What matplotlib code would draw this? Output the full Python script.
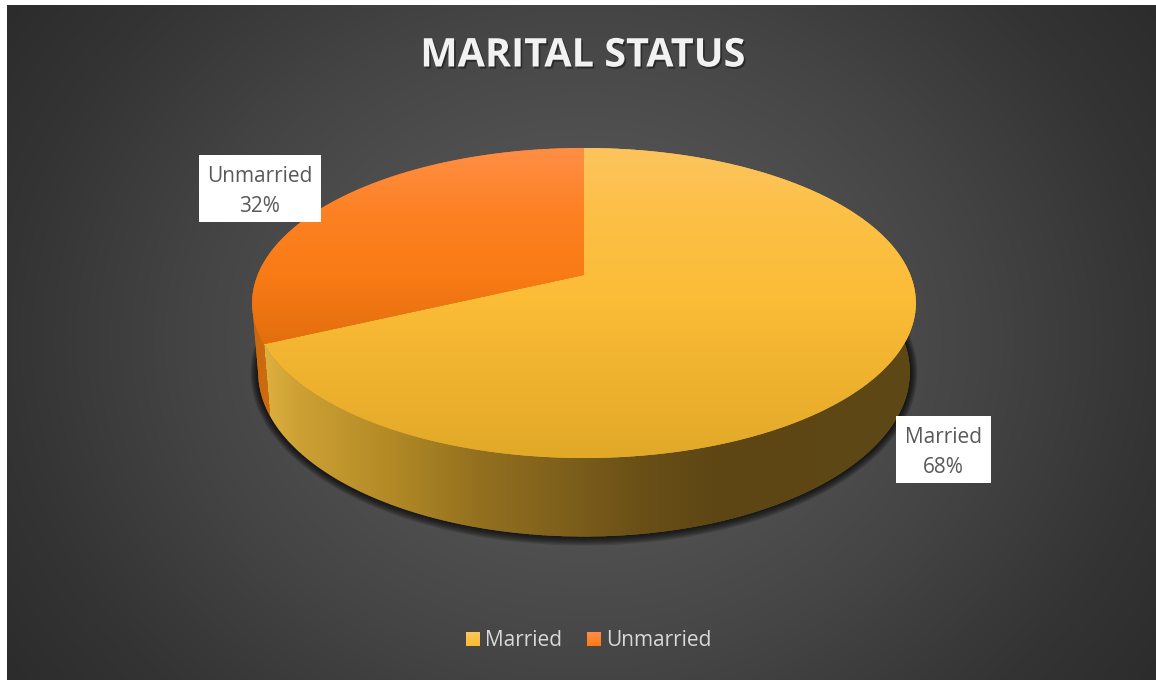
import numpy as np
import matplotlib
matplotlib.use("Agg")
import matplotlib.pyplot as plt
from matplotlib.patches import Polygon, Rectangle
from matplotlib.path import Path
from matplotlib.colors import to_rgb
import matplotlib.patheffects as pe

# ---- data ----
title = "MARITAL STATUS"
categories = ["Married", "Unmarried"]
values = [68, 32]
label_text = ["Married\n68%", "Unmarried\n32%"]

plt.rcParams['font.family'] = ['Open Sans', 'DejaVu Sans']
W, H = 1156, 680
fig = plt.figure(figsize=(W / 100, H / 100), dpi=100, facecolor='white')
ax = fig.add_axes([0, 0, 1, 1])
ax.set_xlim(0, W)
ax.set_ylim(H, 0)
ax.axis('off')

# ---- background ----
xx, yy = np.meshgrid(np.arange(W) + .5, np.arange(H) + .5)
r = np.sqrt(((xx - 584) / 820) ** 2 + ((yy - 340) / 700) ** 2)
g = np.interp(r, [0, .25, .47, .7, .85, 1.0], [0x5A, 0x52, 0x45, 0x34, 0x2C, 0x28]) / 255
bgmask = (xx >= 7) & (yy >= 5)
bg = np.dstack([g, g, g, bgmask.astype(float)])
ax.imshow(bg, extent=(0, W, H, 0), interpolation='nearest', aspect='auto', zorder=0)
ax.set_xlim(0, W)
ax.set_ylim(H, 0)

# ---- projection ----
GAM, BET, A, DEL, EPS = 0.1806, -100.3, 326.4, 0.018, 74.0


def project(theta, z=0.0):
    x, y = np.sin(theta), np.cos(theta)
    w = 1 + GAM * y + DEL * z
    return np.column_stack([584 + A * x / w, (275 + BET * y + EPS * z) / w])


def hexes(stops):
    pos = [p for p, _ in stops]
    cols = np.array([to_rgb(c) for _, c in stops])
    return pos, cols


def grad_poly(pts, stops, axis, z):
    """Polygon patch with a gradient painted through an antialiased mask."""
    pos, cols = hexes(stops)
    ax.add_patch(Polygon(pts, closed=True, fc=cols[len(cols) // 2], ec='none', zorder=z))
    x0, y0 = np.floor(pts.min(axis=0)).astype(int) - 1
    x1, y1 = np.ceil(pts.max(axis=0)).astype(int) + 1
    ss = 3
    xs = (np.arange((x1 - x0) * ss) + .5) / ss + x0
    ys = (np.arange((y1 - y0) * ss) + .5) / ss + y0
    gx, gy = np.meshgrid(xs, ys)
    m = Path(pts).contains_points(np.column_stack([gx.ravel(), gy.ravel()])).reshape(gx.shape)
    cov = m.reshape(y1 - y0, ss, x1 - x0, ss).mean(axis=(1, 3))
    px, py = np.meshgrid(np.arange(x0, x1) + .5, np.arange(y0, y1) + .5)
    t = px if axis == 'x' else py
    rgba = np.dstack([np.interp(t, pos, cols[:, i]) for i in range(3)] + [cov])
    ax.imshow(rgba, extent=(x0, x1, y1, y0), interpolation='nearest', aspect='auto', zorder=z + .1)
    ax.set_xlim(0, W)
    ax.set_ylim(H, 0)


# angles, clockwise from the far side of the pie
edges = np.cumsum([0] + values) / sum(values) * 2 * np.pi

top_stops = [
    [(148, '#FDC45E'), (215, '#FCC046'), (300, '#FBBC36'), (380, '#EFB22F'), (458, '#E1A928')],
    [(148, '#FF8E46'), (215, '#FD8122'), (275, '#F97B16'), (342, '#E46E0E')],
]
wall_stops = [
    [(264, '#DDB040'), (300, '#CDA034'), (390, '#B28A26'), (480, '#93701F'), (580, '#7A5D1B'), (640, '#6A5017'),
     (720, '#5D4614'), (915, '#5E4815')],
    [(250, '#C8680E'), (275, '#D06C0C')],
]

# ---- soft shadow below the body ----
all_t = np.linspace(0, 2 * np.pi, 361)
base = project(all_t, 1.0)
cen = base.mean(axis=0)
for d in np.arange(7, 0, -1):
    sc = 1 + np.array([d * 1.1 / 330, d * 1.1 / 155])
    ax.add_patch(Polygon(cen + (base - cen) * sc, closed=True, fc='black', ec='none', alpha=.14, zorder=1))

# ---- walls ----
married_wall = np.linspace(np.pi / 2 - .05, edges[1], 200)
unmarried_wall = np.linspace(edges[1], edges[1] + .25, 40)
for i, th in enumerate([married_wall, unmarried_wall]):
    pts = np.vstack([project(th, 0), project(th[::-1], 1.0)])
    grad_poly(pts, wall_stops[i], 'x', 2)

# ---- top faces ----
for i in range(len(values)):
    th = np.linspace(edges[i], edges[i + 1], 300)
    pts = np.vstack([project(th), [[584, 275]]])
    grad_poly(pts, top_stops[i], 'y', 3)

# ---- title ----
ax.text(583, 56, title, ha='center', va='center', fontsize=28.5, fontweight='bold', color='#F2F2F2', zorder=6,
        path_effects=[pe.withSimplePatchShadow(offset=(1.2, -1.5), shadow_rgbFace='black', alpha=.4)])

# ---- data labels ----
boxes = [(896, 416, 95, 67), (199, 155, 122, 67)]
for (bx, by, bw, bh), txt in zip(boxes, label_text):
    ax.add_patch(Rectangle((bx, by), bw, bh, fc='white', ec='none', zorder=7))
    ax.text(bx + bw / 2, by + bh / 2 + 3, txt, ha='center', va='center', fontsize=15,
            color='#595959', linespacing=1.6, zorder=8)

# ---- legend ----
swatch_x = [466, 587]
legend_x = [485, 606]
swatch_stops = [[(632, '#FDC75E'), (646, '#FBBA30')], [(632, '#FF8E46'), (646, '#F97B16')]]
for sx, tx, name, st in zip(swatch_x, legend_x, categories, swatch_stops):
    grad_poly(np.array([[sx, 632], [sx + 14, 632], [sx + 14, 646], [sx, 646]], float), st, 'y', 7)
    ax.text(tx, 640, name, ha='left', va='center', fontsize=15, color='#D9D9D9', zorder=8)

fig.savefig('out.png', dpi=100, facecolor='white')
